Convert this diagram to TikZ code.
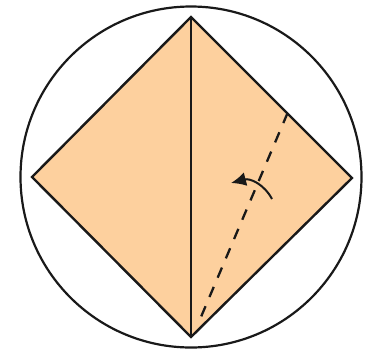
\documentclass[tikz,border=0pt]{standalone}
\usepackage{tikz}
\usetikzlibrary{arrows.meta}
\definecolor{paper}{RGB}{253,208,158}
\begin{document}
\begin{tikzpicture}[x=1pt,y=-1pt,>=Latex]
\useasboundingbox (0,0) rectangle (370,349);
\coordinate (top) at (191,17);
\coordinate (lft) at (32,177);
\coordinate (rgt) at (352,178);
\coordinate (bot) at (191,337);
\coordinate (fa) at (198,324);
\coordinate (fb) at (288,112);
\coordinate (as) at (272,199);
\coordinate (ae) at (231,183);
\draw[line width=2.2pt,black!90] (191,177) circle (170.5);
\draw[line width=2.4pt,black!90,fill=paper,line join=miter] (top)--(rgt)--(bot)--(lft)--cycle;
\draw[line width=1.1pt,black!90] (top)--(bot);
\draw[line width=2.3pt,black!90,dash pattern=on 11pt off 10pt,dash phase=-1pt] (fb)--(fa);
\draw[-{Latex[length=15pt,width=14pt]},line width=2pt,black!90] (as) .. controls (264,184) and (250,178) .. (ae);
\end{tikzpicture}
\end{document}
